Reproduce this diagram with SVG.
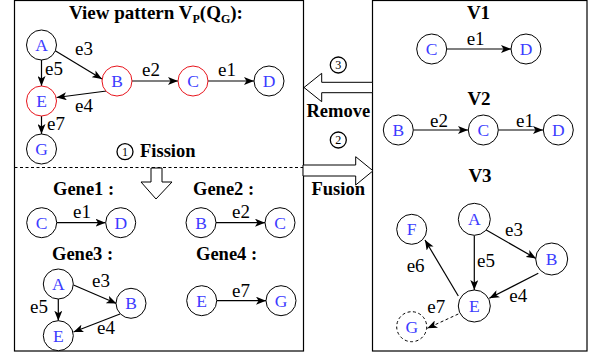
<svg xmlns="http://www.w3.org/2000/svg" width="594" height="358" viewBox="0 0 594 358" font-family="'Liberation Serif', 'DejaVu Serif', serif">
<style>
text{font-family:'Liberation Serif','DejaVu Serif',serif;fill:#000}
.n{fill:#fff;stroke:#000;stroke-width:1}
.r{fill:#fff;stroke:#e8141c;stroke-width:1}
.nt{fill:#3c3cff;font-size:17.5px;text-anchor:middle}
.el{font-size:19px}
.b{font-weight:bold;font-size:18.5px}
.t{font-weight:bold;font-size:19px}
.e{stroke:#000;stroke-width:1.2;fill:none;marker-end:url(#ah)}
.d{stroke:#000;stroke-width:1;fill:none;stroke-dasharray:3,2.5;marker-end:url(#ah)}
.box{fill:none;stroke:#000;stroke-width:1.2}
.ha{fill:#fff;stroke:#000;stroke-width:1}
.cn{fill:#fff;stroke:#000;stroke-width:1.3}
.ct{font-size:12px;text-anchor:middle}
</style>
<defs>
<marker id="ah" markerUnits="userSpaceOnUse" markerWidth="10" markerHeight="8" refX="10" refY="4" orient="auto">
<path d="M0,0 L10,4 L0,8 L2.5,4 z" fill="#000"/>
</marker>
</defs>
<g id="frames">
<rect class="box" x="14.5" y="0.5" width="289" height="350.5"/>
<rect class="box" x="372.5" y="0.5" width="214.5" height="350.5"/>
<line x1="14.5" y1="167.5" x2="303" y2="167.5" stroke="#000" stroke-width="1" stroke-dasharray="3,2.5"/>
</g>
<g id="labels">
<text class="t" x="69" y="18.5">View pattern V<tspan font-size="12" dy="4">P</tspan><tspan dy="-4">(Q</tspan><tspan font-size="12" dy="4">G</tspan><tspan dy="-4">):</tspan></text>
<text class="b" x="140" y="157">Fission</text>
<text class="b" x="53" y="195">Gene1 :</text>
<text class="b" x="193" y="195">Gene2 :</text>
<text class="b" x="52" y="260">Gene3 :</text>
<text class="b" x="196" y="260">Gene4 :</text>
<text class="t" x="478.5" y="18.5" text-anchor="middle">V1</text>
<text class="t" x="479" y="105" text-anchor="middle">V2</text>
<text class="t" x="480" y="182" text-anchor="middle">V3</text>
<text class="b" x="306.5" y="116.5">Remove</text>
<text class="b" x="311.5" y="195">Fusion</text>
</g>
<g id="step-markers">
<circle class="cn" cx="125" cy="151.7" r="8"/><text class="ct" x="125" y="156">1</text>
<circle class="cn" cx="338.3" cy="65" r="8"/><text class="ct" x="338.3" y="69.3">3</text>
<circle class="cn" cx="338.3" cy="140" r="8"/><text class="ct" x="338.3" y="144.3">2</text>
</g>
<g id="big-arrows">
<polygon id="remove-arrow" class="ha" points="372.5,82.3 321.7,82.3 321.7,73.3 304,87.5 321.7,101.7 321.7,92.7 372.5,92.7"/>
<polygon id="fusion-arrow" class="ha" points="303,165 355.7,165 355.7,156.7 373,170.8 355.7,185 355.7,176 303,176"/>
<polygon id="fission-arrow" class="ha" points="151,168 151,182 141,182 156,199 172,182 162,182 162,168"/>
</g>
<g id="connectors">
<line class="e" x1="41.5" y1="60" x2="41.5" y2="86"/>
<line class="e" x1="54" y1="50" x2="102" y2="79"/>
<line class="e" x1="132" y1="81" x2="178" y2="81"/>
<line class="e" x1="208" y1="81" x2="254" y2="81"/>
<line class="e" x1="106.5" y1="91" x2="56.5" y2="97.5"/>
<line class="e" x1="41.5" y1="116" x2="41.5" y2="134"/>
<line class="e" x1="57" y1="222.7" x2="105.5" y2="222.7"/>
<line class="e" x1="216" y1="222.7" x2="265" y2="222.7"/>
<line class="e" x1="58.3" y1="299" x2="58.3" y2="320.7"/>
<line class="e" x1="73.5" y1="285" x2="116.5" y2="303.5"/>
<line class="e" x1="120" y1="314" x2="73.5" y2="332"/>
<line class="e" x1="217" y1="300.7" x2="266" y2="300.7"/>
<line class="e" x1="447" y1="49" x2="511" y2="49"/>
<line class="e" x1="413.5" y1="130" x2="468" y2="130"/>
<line class="e" x1="498.5" y1="130" x2="543" y2="130"/>
<line class="e" x1="458.3" y1="296" x2="425" y2="240"/>
<line class="e" x1="474.3" y1="235.5" x2="474.3" y2="290"/>
<line class="e" x1="485" y1="229.3" x2="536" y2="258.5"/>
<line class="e" x1="538.3" y1="273.3" x2="489.3" y2="298.3"/>
<line class="d" x1="458.3" y1="314" x2="427.3" y2="328.3"/>
</g>
<g id="edge-labels">
<text class="el" x="75" y="55">e3</text>
<text class="el" x="45" y="75">e5</text>
<text class="el" x="142" y="76">e2</text>
<text class="el" x="218" y="76">e1</text>
<text class="el" x="75" y="112">e4</text>
<text class="el" x="47" y="130">e7</text>
<text class="el" x="73" y="218">e1</text>
<text class="el" x="232" y="218">e2</text>
<text class="el" x="92" y="287">e3</text>
<text class="el" x="30" y="313">e5</text>
<text class="el" x="97" y="334">e4</text>
<text class="el" x="232" y="297">e7</text>
<text class="el" x="466.7" y="45">e1</text>
<text class="el" x="430" y="127">e2</text>
<text class="el" x="516" y="127">e1</text>
<text class="el" x="505" y="236">e3</text>
<text class="el" x="477" y="267">e5</text>
<text class="el" x="406.7" y="272">e6</text>
<text class="el" x="509.3" y="302">e4</text>
<text class="el" x="427.3" y="313">e7</text>
</g>
<g id="vp-A"><circle class="n" cx="41.5" cy="45" r="15"/><text class="nt" x="41.5" y="51">A</text></g>
<g id="vp-B"><circle class="r" cx="117" cy="81" r="15"/><text class="nt" x="117" y="87">B</text></g>
<g id="vp-C"><circle class="r" cx="193" cy="81" r="15"/><text class="nt" x="193" y="87">C</text></g>
<g id="vp-D"><circle class="n" cx="269" cy="81" r="15"/><text class="nt" x="269" y="87">D</text></g>
<g id="vp-E"><circle class="r" cx="41.5" cy="101" r="15"/><text class="nt" x="41.5" y="107">E</text></g>
<g id="vp-G"><circle class="n" cx="41.5" cy="149" r="15"/><text class="nt" x="41.5" y="155">G</text></g>
<g id="g1-C"><circle class="n" cx="41.7" cy="222.7" r="15"/><text class="nt" x="41.7" y="228.7">C</text></g>
<g id="g1-D"><circle class="n" cx="120.7" cy="222.7" r="15"/><text class="nt" x="120.7" y="228.7">D</text></g>
<g id="g2-B"><circle class="n" cx="201" cy="222.7" r="15"/><text class="nt" x="201" y="228.7">B</text></g>
<g id="g2-C"><circle class="n" cx="280" cy="222.7" r="15"/><text class="nt" x="280" y="228.7">C</text></g>
<g id="g3-A"><circle class="n" cx="58.3" cy="284" r="15"/><text class="nt" x="58.3" y="290">A</text></g>
<g id="g3-B"><circle class="n" cx="131" cy="303.3" r="15"/><text class="nt" x="131" y="309.3">B</text></g>
<g id="g3-E"><circle class="n" cx="58.3" cy="335.7" r="15"/><text class="nt" x="58.3" y="341.7">E</text></g>
<g id="g4-E"><circle class="n" cx="201.7" cy="300.7" r="15"/><text class="nt" x="201.7" y="306.7">E</text></g>
<g id="g4-G"><circle class="n" cx="281" cy="300.7" r="15"/><text class="nt" x="281" y="306.7">G</text></g>
<g id="v1-C"><circle class="n" cx="431.7" cy="49" r="15"/><text class="nt" x="431.7" y="55">C</text></g>
<g id="v1-D"><circle class="n" cx="526" cy="49" r="15"/><text class="nt" x="526" y="55">D</text></g>
<g id="v2-B"><circle class="n" cx="398.3" cy="130" r="15"/><text class="nt" x="398.3" y="136">B</text></g>
<g id="v2-C"><circle class="n" cx="483.3" cy="130" r="15"/><text class="nt" x="483.3" y="136">C</text></g>
<g id="v2-D"><circle class="n" cx="558.3" cy="130" r="15"/><text class="nt" x="558.3" y="136">D</text></g>
<g id="v3-F"><circle class="n" cx="411.7" cy="229.3" r="15"/><text class="nt" x="411.7" y="235.3">F</text></g>
<g id="v3-A"><circle class="n" cx="474.3" cy="219.3" r="16"/><text class="nt" x="474.3" y="225.3">A</text></g>
<g id="v3-B"><circle class="n" cx="551.7" cy="259" r="16"/><text class="nt" x="551.7" y="265">B</text></g>
<g id="v3-E"><circle class="n" cx="474.3" cy="306" r="16"/><text class="nt" x="474.3" y="312">E</text></g>
<g id="v3-G"><circle class="n" cx="411.7" cy="326.7" r="15" stroke-dasharray="3,2.5"/><text class="nt" x="411.7" y="332.7">G</text></g>
</svg>
